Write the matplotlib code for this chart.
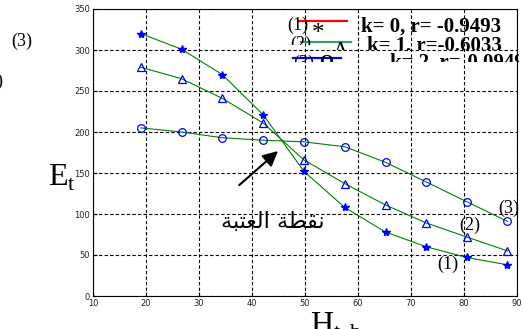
import matplotlib
matplotlib.use('Agg')
import matplotlib.pyplot as plt
from matplotlib.transforms import Bbox, TransformedBbox

# data
H = [19.0, 26.7, 34.4, 42.1, 49.8, 57.5, 65.2, 72.9, 80.5, 88.2]
E_k0 = [320, 301, 270, 221, 152, 108, 78, 60, 47, 38]      # (1) stars
E_k1 = [279, 265, 241, 211, 166, 137, 111, 89, 72, 55]     # (2) triangles
E_k2 = [205, 200, 193, 190, 188, 182, 163, 139, 115, 91]   # (3) circles

legend_rows = ['k= 0, r= -0.9493', 'k= 1, r=-0.6033', 'k= 2, r=-0.0949']
curve_tags = ['(1)', '(2)', '(3)']
xticks = [10, 20, 30, 40, 50, 60, 70, 80, 90]
yticks = [0, 50, 100, 150, 200, 250, 300, 350]

# "نقطة العتبة" pre-shaped (presentation forms, visual order)
threshold_label = '\uFE94\uFE92\uFE98\uFECC\uFEDF\uFE8D \uFE94\uFEC4\uFED8\uFEE7'

W, Hpx = 523, 329
serif = 'Liberation Serif'
green = '#008000'
blue = '#0000ff'

fig = plt.figure(figsize=(W / 100, Hpx / 100), dpi=100)
ax = fig.add_axes([93 / W, 1 - 296 / Hpx, 424 / W, 287 / Hpx])

ax.plot(H, E_k0, '-', color=green, lw=0.8, marker='*', ms=6, mfc=blue, mec=blue)
ax.plot(H, E_k1, '-', color=green, lw=0.8, marker='^', ms=5.5, mfc='none', mec=blue, mew=0.9)
ax.plot(H, E_k2, '-', color=green, lw=0.8, marker='o', ms=5.5, mfc='none', mec=blue, mew=0.9)

ax.set_xlim(10, 90)
ax.set_ylim(0, 350)
ax.set_xticks(xticks)
ax.set_yticks(yticks)
ax.grid(True, color='k', ls=(0, (3, 2)), lw=0.8)
ax.tick_params(direction='in', length=3, labelsize=6, labelcolor='#222222', pad=2)
for s in ax.spines.values():
    s.set_linewidth(0.8)


# helpers: reference pixel (from top-left) -> figure fraction
def fx(px):
    return px / W


def fy(py):
    return 1 - py / Hpx


def clip_to(t, ybot, xright=W):
    t.set_clip_on(True)
    t.set_clip_box(TransformedBbox(Bbox([[0, fy(ybot)], [fx(xright), 1]]), fig.transFigure))


# pseudo legend (rows 2 and 3 are cut at the bottom in the original)
tag_pos = [(287, 29.5, 400), (290, 48.5, 45), (293, 67.5, 62)]
line_pos = [(299, 347, 20.7, 'red'), (301, 351, 41.7, '#3c9a6a'), (293, 341, 58.3, blue)]
text_pos = [(361, 32, 400), (367, 51, 50), (390, 68, 62)]
for i in range(3):
    x0, yb, cut = tag_pos[i]
    t = fig.text(fx(x0), fy(yb), curve_tags[i], family=serif, fontsize=13, va='baseline')
    clip_to(t, cut)
    a, b, yl, c = line_pos[i]
    fig.add_artist(plt.Line2D([fx(a), fx(b)], [fy(yl), fy(yl)], color=c, lw=1.6))
    x0, yb, cut = text_pos[i]
    t = fig.text(fx(x0), fy(yb), legend_rows[i], family=serif, fontsize=15,
                 fontweight='bold', va='baseline')
    clip_to(t, cut, 519)

t = fig.text(fx(318.5), fy(34.5), '*', family=serif, fontsize=18, ha='center', va='center')
t = fig.text(fx(340), fy(55.5), '\u0394', family=serif, fontsize=15, ha='center', va='baseline')
clip_to(t, 50)
t = fig.text(fx(326), fy(68), 'O', family=serif, fontsize=13, fontweight='bold',
             ha='center', va='baseline')
clip_to(t, 62)

# curve labels
ax.text(88.5, 106.7, curve_tags[2], family=serif, fontsize=13, ha='center', va='center')
ax.text(81.0, 86.6, curve_tags[1], family=serif, fontsize=13, ha='center', va='center')
ax.text(76.9, 38.4, curve_tags[0], family=serif, fontsize=13, ha='center', va='center')

# threshold point
ax.annotate('', xy=(45.3, 179), xytext=(37.2, 133),
            arrowprops=dict(arrowstyle='-|>,head_length=0.9,head_width=0.45',
                            color='k', lw=1.5))
fig.text(fx(272.5), fy(222), threshold_label, family='DejaVu Sans', fontsize=16,
         ha='center', va='center')

# axis labels
fig.text(fx(48), fy(186), r'E$_\mathregular{t}$', family=serif, fontsize=23, va='baseline')
fig.text(fx(310), fy(333), r'H$_\mathregular{t,b}$', family=serif, fontsize=23, va='baseline')

# stray text from the surrounding page
fig.text(fx(22), fy(41.5), '(3)', family=serif, fontsize=13, ha='center', va='center')
fig.text(fx(-7), fy(81), '(2)', family=serif, fontsize=13, ha='center', va='center')

fig.savefig('out.png', dpi=100)
